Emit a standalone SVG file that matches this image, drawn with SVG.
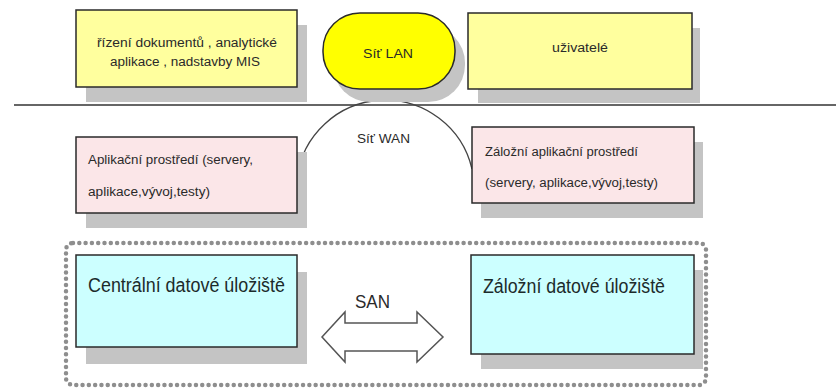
<svg xmlns="http://www.w3.org/2000/svg" width="836" height="389" viewBox="0 0 836 389">
<defs>
<style>
.shadow{fill:#c4c4c4;stroke:none}
.box{stroke:#2a2a2a;stroke-width:1.5}
.yel{fill:#ffff9e}
.pink{fill:#fbe6e8}
.cyan{fill:#ccffff}
.pill{fill:#ffff00;stroke:#2a2a2a;stroke-width:1.5}
.t{font-family:"Liberation Sans",Arial,sans-serif;fill:#2a2a2a}
.s{font-size:12px}
.b{font-size:20px;fill:#1c2b2b}
.line{stroke:#333;stroke-width:1.5;fill:none}
.arc{stroke:#444;stroke-width:1.3;fill:none}
.dots{fill:none;stroke:#8e8e8e;stroke-width:4.5;stroke-linecap:round;stroke-dasharray:0 6.3}
.arrow{fill:#ffffff;stroke:#555;stroke-width:1.5;stroke-linejoin:miter}
</style>
</defs>
<rect width="836" height="389" fill="#ffffff"/>

<g id="connectors">
<line class="line" x1="14" y1="105" x2="836" y2="105"/>
<path class="arc" d="M297 178 A89 89 0 0 1 472 169"/>
<path class="arrow" d="M322 337 L345 312 L345 323 L417 323 L417 312 L443 337 L417 362 L417 351 L345 351 L345 362 Z"/>
<text class="t" x="355" y="308" font-size="18" textLength="35" lengthAdjust="spacingAndGlyphs">SAN</text>
<text class="t" x="357" y="143" font-size="13" textLength="53" lengthAdjust="spacingAndGlyphs">Síť WAN</text>
</g>

<g id="storage-group">
<rect class="dots" x="66" y="243" width="640" height="142" rx="7"/>
</g>

<g id="node-docs">
<rect class="shadow" x="86" y="25" width="221" height="77"/>
<rect class="box yel" x="76" y="10" width="221" height="77"/>
<text class="t s" x="97" y="47" textLength="180" lengthAdjust="spacingAndGlyphs">řízení dokumentů  , analytické</text>
<text class="t s" x="110" y="66" textLength="150" lengthAdjust="spacingAndGlyphs">aplikace , nadstavby MIS</text>
</g>

<g id="node-lan">
<rect class="shadow" x="333" y="26" width="132" height="76" rx="37"/>
<rect class="pill" x="323" y="13" width="132" height="76" rx="37"/>
<text class="t" x="363" y="58" font-size="13" textLength="50" lengthAdjust="spacingAndGlyphs">Síť LAN</text>
</g>

<g id="node-users">
<rect class="shadow" x="478" y="28" width="222" height="75"/>
<rect class="box yel" x="468" y="13" width="224" height="76"/>
<text class="t s" x="552" y="52" textLength="56" lengthAdjust="spacingAndGlyphs">uživatelé</text>
</g>

<g id="node-app">
<rect class="shadow" x="86" y="152" width="221" height="76"/>
<rect class="box pink" x="76" y="137" width="221" height="76"/>
<text class="t s" x="88" y="164" textLength="165" lengthAdjust="spacingAndGlyphs">Aplikační prostředí (servery,</text>
<text class="t s" x="88" y="196" textLength="122" lengthAdjust="spacingAndGlyphs">aplikace,vývoj,testy)</text>
</g>

<g id="node-backup-app">
<rect class="shadow" x="481" y="142" width="222" height="76"/>
<rect class="box pink" x="472" y="127" width="222" height="76"/>
<text class="t s" x="485" y="156" textLength="153" lengthAdjust="spacingAndGlyphs">Záložní aplikační prostředí</text>
<text class="t s" x="485" y="187" textLength="173" lengthAdjust="spacingAndGlyphs">(servery, aplikace,vývoj,testy)</text>
</g>

<g id="node-central-storage">
<rect class="shadow" x="86" y="272" width="221" height="92"/>
<rect class="box cyan" x="76" y="255" width="221" height="92"/>
<text class="t b" x="88" y="292" textLength="197" lengthAdjust="spacingAndGlyphs">Centrální datové úložiště</text>
</g>

<g id="node-backup-storage">
<rect class="shadow" x="481" y="270" width="222" height="99"/>
<rect class="box cyan" x="471" y="255" width="223" height="99"/>
<text class="t b" x="483" y="293" textLength="182" lengthAdjust="spacingAndGlyphs">Záložní datové úložiště</text>
</g>
</svg>
